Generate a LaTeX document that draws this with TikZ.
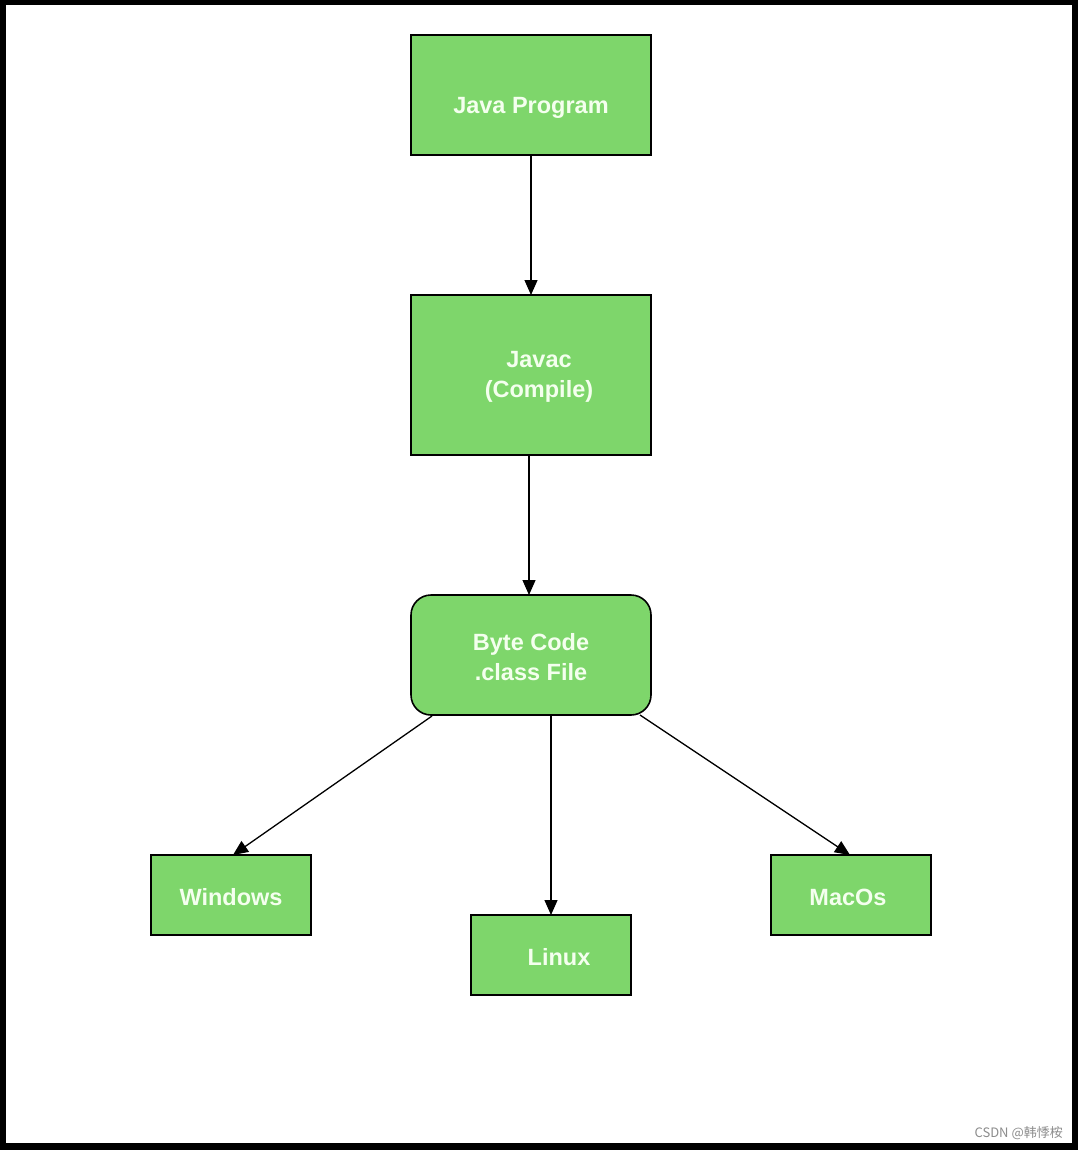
\documentclass[tikz,border=0pt]{standalone}
\usepackage{fontspec}
\setmainfont{Liberation Sans}
\newfontfamily\cjkfont{Noto Sans CJK SC}
\usetikzlibrary{arrows.meta}
\definecolor{boxgreen}{HTML}{7ED66B}
\definecolor{txtwhite}{HTML}{F4FFEE}
\begin{document}
\begin{tikzpicture}[x=1pt,y=-1pt,
  box/.style={draw=black,line width=1.6pt,fill=boxgreen,inner sep=0pt},
  lbl/.style={text=txtwhite,font=\bfseries\fontsize{23.5}{30}\selectfont,align=center,inner sep=0pt},
  conn/.style={draw=black,line width=1.3pt,-{Triangle[length=15pt,width=13pt]}}]
\useasboundingbox (0,0) rectangle (1078,1150);
\fill[black] (0,0) rectangle (1078,1150);
\fill[white] (6,5) rectangle (1072,1143);
% boxes
\node[box,minimum width=240pt,minimum height=120pt] (java) at (531,95) {};
\node[box,minimum width=240pt,minimum height=160pt] (javac) at (531,375) {};
\node[box,rounded corners=20pt,minimum width=240pt,minimum height=120pt] (byte) at (531,655) {};
\node[box,minimum width=160pt,minimum height=80pt] (win) at (231,895) {};
\node[box,minimum width=160pt,minimum height=80pt] (linux) at (551,955) {};
\node[box,minimum width=160pt,minimum height=80pt] (mac) at (851,895) {};
% labels
\node[lbl] (tjava) at (531,108) {Java Program};
\node[lbl] (tjavac) at (539,377) {Javac\\(Compile)};
\node[lbl] (tbyte) at (531,657) {Byte Code\\.class File};
\node[lbl] (twin) at (231,897) {Windows};
\node[lbl] (tlinux) at (559,957) {Linux};
\node[lbl] (tmac) at (848,897) {MacOs};
% connectors
\coordinate (j1) at (531,155);
\coordinate (j2) at (531,295);
\coordinate (c1) at (529,455);
\coordinate (c2) at (529,595);
\coordinate (bw) at (432,716);
\coordinate (ww) at (233,855);
\coordinate (bl) at (551,715);
\coordinate (ll) at (551,915);
\coordinate (bm) at (640,715);
\coordinate (mm) at (850,855);
\draw[conn] (j1) -- (j2);
\draw[conn] (c1) -- (c2);
\draw[conn] (bw) -- (ww);
\draw[conn] (bl) -- (ll);
\draw[conn] (bm) -- (mm);
% watermark
\node[text=black!45,font=\cjkfont\fontsize{13}{15}\selectfont,anchor=east,inner sep=0pt] (wm) at (1063,1133) {CSDN @韩悸桉};
\end{tikzpicture}
\end{document}
